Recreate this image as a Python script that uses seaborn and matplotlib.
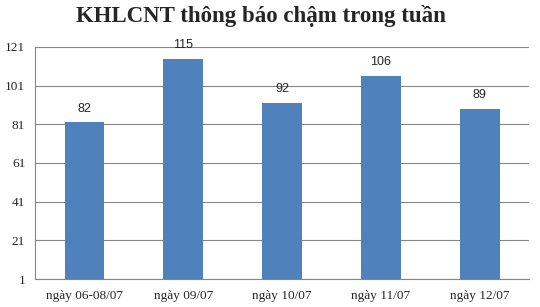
import matplotlib
matplotlib.use("Agg")
import matplotlib.pyplot as plt
import seaborn as sns
import pandas as pd
import numpy as np

categories = ["ngày 06-08/07", "ngày 09/07", "ngày 10/07", "ngày 11/07", "ngày 12/07"]
values = [82, 115, 92, 106, 89]
yticks = [1, 21, 41, 61, 81, 101, 121]

sns.set_style("white")
plt.rcParams['font.family'] = ['Liberation Serif', 'DejaVu Serif']

df = pd.DataFrame({"cat": categories, "val": values})

fig = plt.figure(figsize=(5.4, 3.07), dpi=100)
ax = fig.add_axes([0.0648, 0.0912, 0.9152, 0.7558])
sns.barplot(data=df, x="cat", y="val", color="#4F81BD", saturation=1, width=0.4,
            edgecolor="none", linewidth=0, ax=ax)

ax.set_ylim(1, 121)
ax.set_xlim(-0.5, len(categories) - 0.5)
ax.set_yticks(yticks)
ax.set_yticklabels([str(t) for t in yticks], fontsize=9.5)
ax.set_xlabel("")
ax.set_ylabel("")
ax.tick_params(axis='x', which='major', length=0, labelsize=9.5, pad=8)
ax.set_xticks(np.arange(-0.5, len(categories), 1.0), minor=True)
ax.tick_params(axis='x', which='minor', length=4, color="#868686", width=0.8, direction='out')
ax.tick_params(axis='y', length=4, color="#868686", width=0.8, direction='out', pad=3)
ax.yaxis.grid(True, color="#868686", linewidth=0.8)
ax.set_axisbelow(True)
for s in ["top", "right"]:
    ax.spines[s].set_visible(False)
for s in ["left", "bottom"]:
    ax.spines[s].set_color("#868686")
    ax.spines[s].set_linewidth(0.8)

for i, v in enumerate(values):
    ax.text(i, v + 4, str(v), ha="center", va="bottom", fontsize=9,
            family=["Liberation Sans", "DejaVu Sans"])

fig.suptitle("KHLCNT thông báo chậm trong tuần", fontsize=16.5, fontweight="bold",
             x=0.484, y=0.985)

fig.savefig("out.png", dpi=100)
